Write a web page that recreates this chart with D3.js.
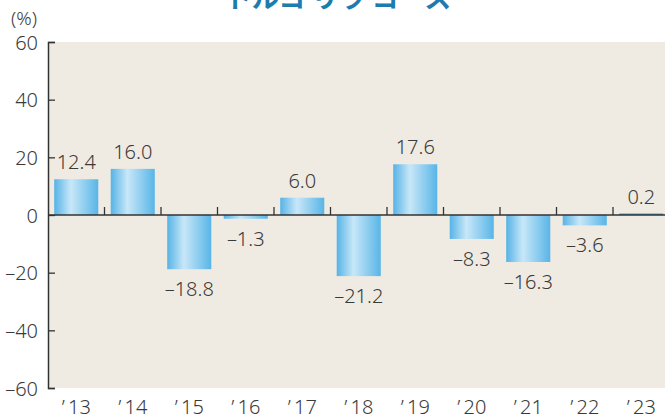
<!DOCTYPE html>
<html><head><meta charset="utf-8">
<script src="https://cdn.jsdelivr.net/npm/d3@7/dist/d3.min.js"></script>
<style>body{margin:0;background:#fff;overflow:hidden}svg{display:block}</style>
</head><body><svg id="c" width="665" height="419"></svg>
<script>
const categories = ["'13","'14","'15","'16","'17","'18","'19","'20","'21","'22","'23"];
const values = [12.4, 16.0, -18.8, -1.3, 6.0, -21.2, 17.6, -8.3, -16.3, -3.6, 0.2];
const valueLabels = ["12.4","16.0","–18.8","–1.3","6.0","–21.2","17.6","–8.3","–16.3","–3.6","0.2"];
const yTicks = [60, 40, 20, 0, -20, -40, -60];
const yTickLabels = ["60","40","20","0","–20","–40","–60"];
const title = "トルコ リラ コース";

const svg = d3.select("#c");
const pLeft = 48, pRight = 669.5, pTop = 42, pBottom = 388;
const font = "'Noto Sans', 'Open Sans', sans-serif";
const textColor = "#3a3a3a";
const fw = 300;

const x = d3.scaleBand().domain(categories).range([pLeft, pRight]).paddingInner(0.22).paddingOuter(0.11);
const y = d3.scaleLinear().domain([-60, 60]).range([pBottom, pTop]);

const defs = svg.append("defs");
const g = defs.append("linearGradient").attr("id","bar").attr("x1","0").attr("x2","1").attr("y1","0").attr("y2","0");
g.append("stop").attr("offset","0%").attr("stop-color","#56b3e6");
g.append("stop").attr("offset","38%").attr("stop-color","#c8e7f8");
g.append("stop").attr("offset","100%").attr("stop-color","#58b5e7");

// title (cut off at top, as in the reference)
svg.append("text").attr("x", 338).attr("y", 8).attr("text-anchor","middle")
  .attr("font-family","'Noto Sans CJK JP', sans-serif").attr("font-weight","bold").attr("font-size",27)
  .attr("fill","#1d7bb0").text(title);

// plot background
svg.append("rect").attr("x", pLeft).attr("y", pTop).attr("width", pRight-pLeft).attr("height", pBottom-pTop).attr("fill","#efebe2");

// y axis
const yAxis = d3.axisLeft(y).tickValues(yTicks).tickSize(-7).tickFormat((d,i)=>yTickLabels[i]).tickPadding(10);
const ya = svg.append("g").attr("transform",`translate(${pLeft},0)`).call(yAxis);
ya.select(".domain").attr("stroke","#333").attr("stroke-width",1.5);
ya.selectAll(".tick line").attr("stroke","#333").attr("stroke-width",1.3);
ya.selectAll(".tick text").attr("font-family",font).attr("font-weight",fw).attr("font-size",20).attr("fill",textColor).attr("dy","0.36em");

svg.append("text").attr("x", 11).attr("y", 25).attr("font-family",font).attr("font-weight",fw).attr("font-size",19).attr("fill",textColor).text("(%)");

// bars
svg.selectAll("rect.bar").data(values).join("rect").attr("class","bar")
  .attr("x",(d,i)=>x(categories[i]))
  .attr("width", x.bandwidth())
  .attr("y", d => Math.abs(d) < 0.5 ? y(0)-1.5 : y(Math.max(0,d)))
  .attr("height", d => Math.abs(d) < 0.5 ? 1.5 : Math.abs(y(d)-y(0)))
  .attr("fill", d => Math.abs(d) < 0.5 ? "#3d9fd6" : "url(#bar)");

// zero line with band ticks
svg.append("line").attr("x1",pLeft).attr("x2",pRight).attr("y1",y(0)).attr("y2",y(0)).attr("stroke","#333").attr("stroke-width",1.6);
const step = x.step();
categories.slice(1).forEach((c,i)=>{
  const bx = x(c) - step*x.paddingInner()/2;
  svg.append("line").attr("x1",bx).attr("x2",bx).attr("y1",y(0)).attr("y2",y(0)-8).attr("stroke","#333").attr("stroke-width",1.3);
});

// value labels
svg.selectAll("text.val").data(values).join("text").attr("class","val")
  .attr("x",(d,i)=>x(categories[i])+x.bandwidth()/2)
  .attr("y", d => d >= 0 ? y(d)-10 : y(d)+27)
  .attr("text-anchor","middle").attr("font-family",font).attr("font-weight",fw).attr("font-size",20).attr("fill",textColor)
  .text((d,i)=>valueLabels[i]);

// x labels
svg.selectAll("text.cat").data(categories).join("text").attr("class","cat")
  .attr("x", d => x(d)+x.bandwidth()/2)
  .attr("y", 414).attr("text-anchor","middle").attr("font-family",font).attr("font-weight",fw).attr("font-size",20).attr("fill",textColor)
  .text(d => d.replace("'", "\u2019\u2009"));
</script></body></html>
